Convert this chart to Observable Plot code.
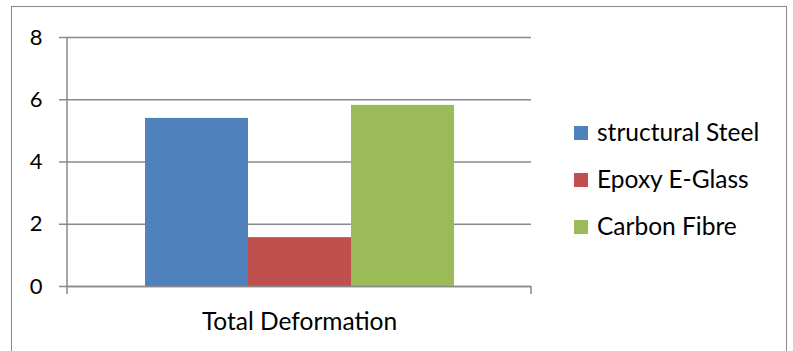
<!DOCTYPE html>
<html><head><meta charset="utf-8">
<script src="https://cdn.jsdelivr.net/npm/d3@7"></script>
<script src="https://cdn.jsdelivr.net/npm/@observablehq/plot@0.6"></script>
<style>
body{margin:0;background:#fff;}
#wrap{position:relative;width:793px;height:351px;overflow:hidden;font-family:Lato,"Open Sans",sans-serif;background:#fff;}
#frame{position:absolute;left:11px;top:6px;width:776px;height:380px;border:1.5px solid #8a8a8a;box-sizing:border-box;}
#chart{position:absolute;left:0;top:0;}
#legend{position:absolute;left:574px;top:109px;}
.item{display:flex;align-items:center;height:47px;}
.sw{width:14px;height:14px;margin-right:9px;}
.lab{font-size:24.5px;color:#000;white-space:nowrap;line-height:1;}
</style></head>
<body>
<div id="wrap"><div id="frame"></div><div id="chart"></div><div id="legend"></div></div>
<script>
const categories = ["Total Deformation"];
const series = ["structural Steel", "Epoxy E-Glass", "Carbon Fibre"];
const values = [5.4, 1.57, 5.82];
const colors = ["#4f81bd", "#c0504d", "#9bbb59"];
const yTicks = [0, 2, 4, 6, 8];

const data = series.map((s, i) => ({category: categories[0], series: s, value: values[i]}));

const axisLines = (index, scales, values, dim) => {
  const g = document.createElementNS("http://www.w3.org/2000/svg", "g");
  const x0 = dim.marginLeft, x1 = dim.width - dim.marginRight;
  const y0 = dim.marginTop, yb = dim.height - dim.marginBottom;
  const mk = (xa, ya, xb, yb2) => {
    const l = document.createElementNS("http://www.w3.org/2000/svg", "line");
    l.setAttribute("x1", xa); l.setAttribute("y1", ya);
    l.setAttribute("x2", xb); l.setAttribute("y2", yb2);
    l.setAttribute("stroke", "#8a8a8a"); l.setAttribute("stroke-width", "1.5");
    g.appendChild(l);
  };
  mk(x0, y0, x0, yb + 8);
  mk(x1, yb, x1, yb + 8);
  return g;
};

const chart = Plot.plot({
  width: 793,
  height: 351,
  marginLeft: 67,
  marginRight: 262,
  marginTop: 37,
  marginBottom: 65,
  style: {fontFamily: "Lato, 'Open Sans', sans-serif", background: "transparent"},
  x: {domain: series, paddingInner: 0, paddingOuter: 0.743, axis: null},
  y: {domain: [0, 8], ticks: yTicks, axis: null},
  color: {domain: series, range: colors},
  marks: [
    Plot.gridY(yTicks, {stroke: "#8a8a8a", strokeOpacity: 1, strokeWidth: 1.5}),
    Plot.barY(data, {x: "series", y: "value", fill: "series", inset: 0}),
    Plot.ruleY([0], {stroke: "#8a8a8a", strokeWidth: 1.5}),
    Plot.axisY(yTicks, {tickSize: 8, tickPadding: 17, fontSize: 22, stroke: "#8a8a8a", strokeWidth: 1.5, fill: "#000", label: null}),
    axisLines,
    Plot.text(categories, {text: d => d, frameAnchor: "bottom", dy: 36, lineAnchor: "middle", fontSize: 24.5, fill: "#000"})
  ]
});
document.getElementById("chart").appendChild(chart);

const legend = document.getElementById("legend");
series.forEach((s, i) => {
  const it = document.createElement("div");
  it.className = "item";
  it.innerHTML = `<div class="sw" style="background:${colors[i]}"></div><span class="lab">${s}</span>`;
  legend.appendChild(it);
});
</script>
</body></html>
